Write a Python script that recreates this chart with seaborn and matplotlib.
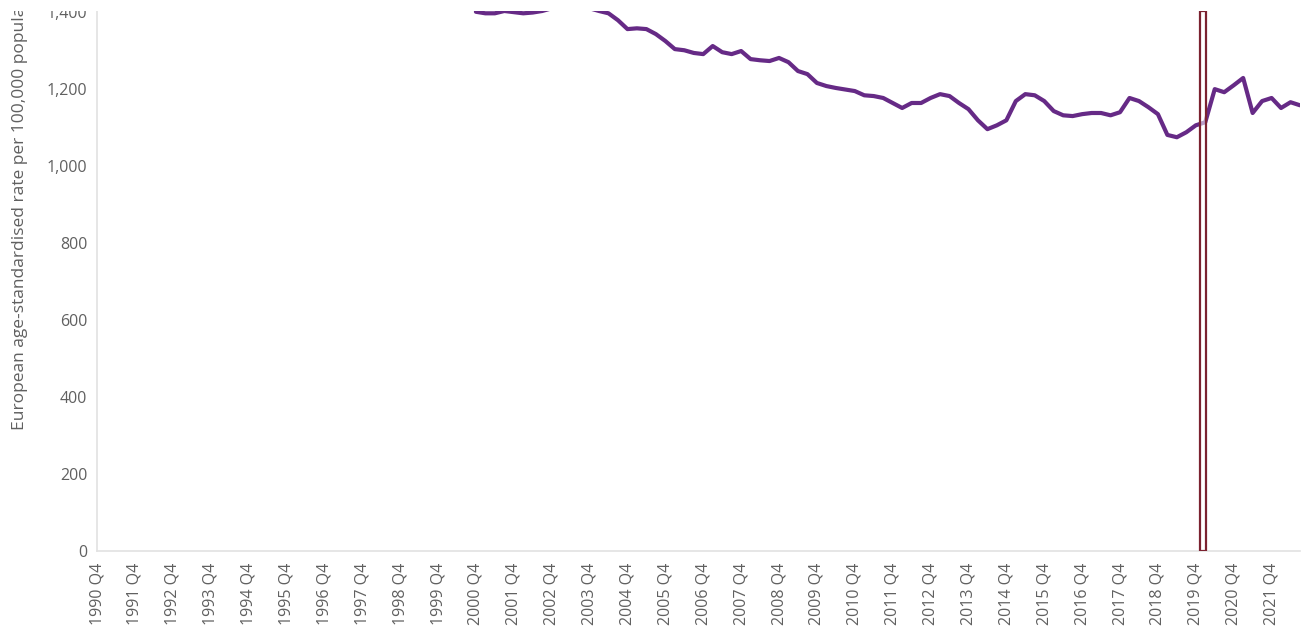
from matplotlib import pyplot as plt
from matplotlib.patches import Rectangle
from matplotlib.ticker import FuncFormatter
import pandas as pd
import seaborn as sns
import numpy as np

# quarters shown on the axis: 1990 Q4 .. 2022 Q3
years = list(range(1990, 2023))
quarters = [f"{y} Q{q}" for y in years for q in (1, 2, 3, 4)]
quarters = quarters[quarters.index("1990 Q4"):quarters.index("2022 Q3") + 1]

# rate per 100,000, first visible point 2000 Q4
first_quarter = "2000 Q4"
rate_values = [
    1401, 1397, 1397, 1403, 1400, 1397, 1399, 1403, 1410, 1415, 1418, 1412,
    1410, 1403, 1397, 1379, 1356, 1358, 1356, 1343, 1325, 1304, 1301, 1294,
    1291, 1312, 1296, 1291, 1299, 1278, 1275, 1273, 1281, 1270, 1247, 1239,
    1216, 1208, 1203, 1199, 1195, 1184, 1182, 1177, 1164, 1151, 1164, 1164,
    1177, 1187, 1182, 1164, 1148, 1119, 1096, 1106, 1119, 1169, 1187, 1184,
    1169, 1143, 1132, 1130, 1135, 1138, 1138, 1132, 1140, 1177, 1169, 1153,
    1135, 1081, 1075, 1088, 1106, 1114, 1200, 1192, 1210, 1229, 1138, 1169,
    1177, 1151, 1166, 1158,
]
tick_labels = [q for q in quarters if q.endswith("Q4")]
y_ticks = [0, 200, 400, 600, 800, 1000, 1200, 1400]
marker_quarter = "2019 Q4"

start = quarters.index(first_quarter)
rate = [np.nan] * start + rate_values
df = pd.DataFrame({"pos": np.arange(len(quarters)), "quarter": quarters, "rate": rate})

sns.set_style("white")
plt.rcParams['font.family'] = ['Open Sans', 'DejaVu Sans']

fig = plt.figure(figsize=(13.08, 6.36), dpi=100)
ax = fig.add_axes([97 / 1308, 1 - 551 / 636, (1300 - 97) / 1308, (551 - 11) / 636])

sns.lineplot(data=df, x="pos", y="rate", ax=ax, color="#662a86", linewidth=3.0,
             solid_capstyle="round", solid_joinstyle="round")

ax.set_xlim(0, len(quarters) - 1)
ax.set_ylim(0, 1403)

tick_pos = [quarters.index(q) for q in tick_labels]
ax.set_xticks(tick_pos)
ax.set_xticklabels(tick_labels, rotation=90, fontsize=11.5, color="#606060")
ax.set_yticks(y_ticks)
ax.yaxis.set_major_formatter(FuncFormatter(lambda v, p: f"{int(v):,}"))
ax.tick_params(axis="y", labelsize=11.5, labelcolor="#606060", length=0, pad=7)
ax.tick_params(axis="x", direction="inout", length=9, width=1, color="#dcdcdc", pad=4)

for side in ["top", "right"]:
    ax.spines[side].set_visible(False)
for side in ["left", "bottom"]:
    ax.spines[side].set_color("#e2e2e2")
    ax.spines[side].set_linewidth(1.2)

ax.set_xlabel("")
ax.set_ylabel("European age-standardised rate per 100,000 population",
              fontsize=12.5, color="#606060")
ax.yaxis.set_label_coords(-0.057, 0.645)

# highlight marker just after 2019 Q4
mpos = quarters.index(marker_quarter)
ax.add_patch(Rectangle((mpos + 0.45, 0), 0.6, 1403, facecolor=(1, 1, 1, 0.55),
                       edgecolor="#7b2230", linewidth=1.6, zorder=4))

# the screenshot is cut at the top
fig.add_artist(Rectangle((0, 1 - 11 / 636), 1, 11 / 636, transform=fig.transFigure,
                         facecolor="white", edgecolor="none", zorder=20))

plt.savefig("out.png", dpi=100)
